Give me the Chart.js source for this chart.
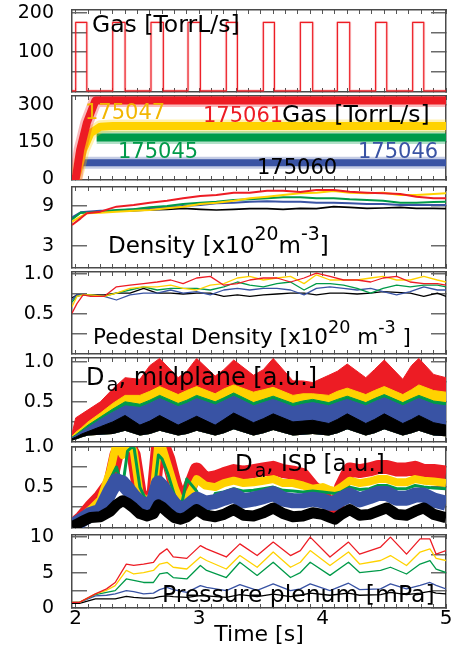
<!DOCTYPE html>
<html>
<head>
<meta charset="utf-8">
<script src="https://cdn.jsdelivr.net/npm/chart.js@4.4.1/dist/chart.umd.min.js"></script>
<style>
  html, body { margin: 0; padding: 0; background: #fff; }
  #wrap { position: relative; width: 461px; height: 649px; overflow: hidden; font-family: 'DejaVu Sans', sans-serif; }
  #wrap canvas { position: absolute; left: 0; z-index: 1; }
  .lbl { position: absolute; white-space: nowrap; line-height: 1; color: #000; z-index: 5; }
  .lbl sup { font-size: 0.82em; vertical-align: baseline; position: relative; top: -0.68em; }
  .lbl sub { font-size: 0.82em; vertical-align: baseline; position: relative; top: 0.3em; margin-left: 2px; }
</style>
</head>
<body>
<div id="wrap">
  <div class="lbl" style="left:92px;top:13px;font-size:23.5px">Gas [TorrL/s]</div>
  <div class="lbl" style="left:85px;top:102px;font-size:21px;color:#f2b600">175047</div>
  <div class="lbl" style="left:203px;top:105px;font-size:21px;color:#ed1c24">175061</div>
  <div class="lbl" style="left:282px;top:103px;font-size:23.5px">Gas [TorrL/s]</div>
  <div class="lbl" style="left:118px;top:141px;font-size:21px;color:#009a49">175045</div>
  <div class="lbl" style="left:358px;top:141px;font-size:21px;color:#3953a4">175046</div>
  <div class="lbl" style="left:257px;top:157px;font-size:21px">175060</div>
  <div class="lbl" style="left:108px;top:234px;font-size:23px">Density [x10<sup>20</sup>m<sup>-3</sup>]</div>
  <div class="lbl" style="left:93px;top:326px;font-size:21.5px">Pedestal Density [x10<sup style="top:-0.6em">20</sup> m<sup style="top:-0.6em">-3</sup> ]</div>
  <div class="lbl" style="left:86px;top:365px;font-size:24px">D<sub>a</sub>, midplane [a.u.]</div>
  <div class="lbl" style="left:235px;top:452px;font-size:23px">D<sub>a</sub>, ISP [a.u.]</div>
  <div class="lbl" style="left:162px;top:583px;font-size:23.5px">Pressure plenum [mPa]</div>
</div>
<script>
// shared time axis
const X_MIN = 1.97, X_MAX = 5.0;
const xLabelVals = [2, 3, 4, 5];

// panel 1: gas valve pulses (times in s), level in TorrL/s
const gasOn  = [2.00, 2.30, 2.61, 2.91, 3.22, 3.52, 3.82, 4.12, 4.43, 4.73];
const gasOff = [2.09, 2.40, 2.71, 3.01, 3.31, 3.61, 3.92, 4.22, 4.52, 4.82];
const gasHigh = 176, gasLow = 0;

// panel 2: gas flow per shot
const flowT_61 = [1.97, 2.00, 2.036, 2.09, 2.16, 5.00];
const flow_61  = [0, 0, 118, 227, 318, 318];
const flowT_47 = [1.97, 2.00, 2.02, 2.06, 2.12, 2.20, 2.30, 5.00];
const flow_47  = [0, 0, 36, 118, 186, 212, 215, 215];
const flowT_45 = [2.17, 5.00];
const flow_45  = [168, 168];
const flowT_46 = [2.01, 5.00];
const flow_46  = [66, 66];

// panel 3: line density
const tDen   = [1.97,2.04,2.09,2.20,2.33,2.47,2.60,2.74,2.87,3.01,3.14,3.28,3.41,3.55,3.68,3.82,3.95,4.09,4.22,4.36,4.49,4.63,4.76,4.90,5.00];
const denRed = [6.15,7.15,7.9,8.15,8.9,9.15,9.5,9.8,10.15,10.5,10.65,11.0,11.0,11.3,11.3,11.1,11.4,11.4,11.15,11.0,10.9,10.8,10.4,10.15,10.15];
const denYel = [6.65,7.4,7.9,8.0,8.15,8.3,8.4,8.65,8.9,9.3,9.5,9.8,10.15,10.4,10.65,10.9,11.0,11.25,11.0,10.9,11.0,10.65,10.65,10.8,10.9];
const denGrn = [7.0,8.0,8.0,8.15,8.4,8.5,8.8,9.0,9.3,9.5,9.65,9.9,10.0,10.15,10.3,10.3,10.15,10.15,10.0,9.9,9.8,9.5,9.5,9.6,9.65];
const denBlu = [7.3,8.05,8.15,8.3,8.3,8.5,8.65,8.8,9.0,9.15,9.4,9.5,9.65,9.7,9.65,9.65,9.5,9.5,9.4,9.3,9.3,9.15,9.15,9.15,9.15];
const denBlk = [7.15,8.0,8.05,8.15,8.3,8.3,8.4,8.5,8.65,8.5,8.4,8.5,8.6,8.6,8.5,8.65,8.6,8.9,8.8,8.65,8.7,8.8,8.65,8.65,8.6];

// panel 4: pedestal density
const tPed   = [1.97,2.01,2.06,2.12,2.23,2.33,2.44,2.55,2.66,2.77,2.87,2.98,3.09,3.20,3.31,3.41,3.52,3.63,3.74,3.85,3.95,4.06,4.17,4.28,4.39,4.49,4.60,4.71,4.82,4.93,5.00];
const pedRed = [0.51,0.63,0.74,0.72,0.72,0.84,0.86,0.88,0.90,0.925,0.88,0.95,0.97,0.86,0.88,0.925,0.95,0.95,0.90,0.95,1.01,0.97,0.925,0.925,0.90,0.95,0.97,0.90,0.88,0.88,0.86];
const pedYel = [0.59,0.72,0.74,0.74,0.72,0.76,0.82,0.84,0.84,0.86,0.82,0.80,0.86,0.88,0.95,0.97,0.925,0.95,0.97,0.88,0.99,0.925,0.925,0.925,0.95,0.97,0.925,0.925,0.97,0.925,0.90];
const pedGrn = [0.65,0.72,0.74,0.74,0.72,0.76,0.80,0.84,0.80,0.82,0.82,0.82,0.80,0.84,0.90,0.86,0.84,0.88,0.90,0.80,0.88,0.88,0.86,0.82,0.76,0.82,0.86,0.84,0.86,0.86,0.84];
const pedBlu = [0.675,0.74,0.74,0.74,0.72,0.675,0.74,0.76,0.76,0.80,0.76,0.78,0.74,0.80,0.82,0.80,0.82,0.82,0.80,0.74,0.82,0.84,0.82,0.80,0.82,0.78,0.74,0.78,0.84,0.80,0.80];
const pedBlk = [0.70,0.74,0.74,0.74,0.74,0.76,0.76,0.82,0.76,0.76,0.75,0.76,0.76,0.72,0.74,0.72,0.74,0.75,0.76,0.76,0.74,0.76,0.76,0.75,0.76,0.78,0.77,0.76,0.72,0.76,0.72];

// panel 5: D-alpha midplane, band envelopes
const tMid   = [1.97,2.00,2.05,2.10,2.20,2.30,2.40,2.52,2.60,2.68,2.83,2.90,2.98,3.13,3.20,3.28,3.44,3.52,3.60,3.76,3.84,3.92,4.05,4.12,4.20,4.35,4.42,4.50,4.65,4.72,4.78,4.90,5.00];
const midLow = [0.02,0.03,0.06,0.08,0.09,0.10,0.14,0.08,0.10,0.14,0.08,0.10,0.14,0.08,0.11,0.16,0.08,0.11,0.15,0.08,0.09,0.10,0.08,0.11,0.16,0.08,0.11,0.16,0.08,0.11,0.14,0.08,0.07];
const midBlk = [0.04,0.06,0.10,0.13,0.19,0.25,0.33,0.21,0.26,0.33,0.21,0.26,0.32,0.21,0.28,0.36,0.24,0.29,0.35,0.25,0.26,0.27,0.23,0.28,0.35,0.23,0.28,0.35,0.23,0.28,0.33,0.24,0.21];
const midBlu = [0.05,0.08,0.13,0.18,0.28,0.37,0.45,0.43,0.48,0.54,0.44,0.48,0.54,0.46,0.51,0.57,0.45,0.49,0.53,0.44,0.47,0.49,0.45,0.49,0.53,0.45,0.50,0.55,0.45,0.50,0.54,0.47,0.45];
const midGrn = [0.06,0.09,0.15,0.21,0.31,0.41,0.50,0.47,0.52,0.58,0.48,0.52,0.58,0.50,0.55,0.61,0.49,0.53,0.57,0.48,0.51,0.53,0.49,0.53,0.57,0.49,0.54,0.59,0.49,0.54,0.58,0.51,0.49];
const midYel = [0.07,0.12,0.18,0.25,0.36,0.48,0.58,0.58,0.63,0.69,0.59,0.64,0.69,0.60,0.66,0.71,0.62,0.65,0.68,0.58,0.60,0.60,0.58,0.63,0.67,0.59,0.64,0.69,0.59,0.65,0.71,0.64,0.62];
const midRed = [0.10,0.30,0.35,0.40,0.50,0.66,0.80,0.78,0.95,1.04,0.80,0.88,1.04,0.82,0.90,1.02,0.83,0.90,1.04,0.76,0.76,0.74,0.83,0.88,0.97,0.80,0.90,1.02,0.78,0.95,1.04,0.84,0.80];

// panel 6: D-alpha ISP, band centres
const tIsp   = [1.97,2.00,2.05,2.12,2.20,2.28,2.33,2.38,2.42,2.47,2.52,2.58,2.63,2.67,2.70,2.75,2.80,2.85,2.90,2.98,3.05,3.13,3.20,3.28,3.36,3.44,3.52,3.60,3.68,3.76,3.84,3.92,4.00,4.05,4.10,4.15,4.22,4.30,4.38,4.45,4.52,4.60,4.68,4.75,4.82,4.90,5.00];
const ispRed = [0.02,0.05,0.12,0.25,0.38,0.55,0.90,1.05,1.05,0.90,0.40,0.35,0.40,1.05,1.05,0.85,0.55,0.32,0.40,0.72,0.60,0.62,0.66,0.70,0.68,0.70,0.72,0.74,0.70,0.68,0.65,0.50,0.40,0.30,0.15,0.50,0.72,0.70,0.72,0.75,0.75,0.72,0.72,0.74,0.70,0.70,0.68];
const ispYel = [0.02,0.05,0.12,0.22,0.34,0.70,1.05,0.90,1.05,0.95,0.40,0.32,0.42,1.05,1.00,0.75,0.50,0.30,0.35,0.60,0.52,0.50,0.55,0.58,0.55,0.56,0.58,0.60,0.55,0.55,0.52,0.48,0.50,0.47,0.45,0.50,0.58,0.55,0.57,0.60,0.60,0.56,0.56,0.60,0.58,0.57,0.55];
const ispGrn = [0.02,0.04,0.10,0.18,0.28,0.60,0.75,0.50,0.95,1.02,0.50,0.30,0.38,0.90,0.85,0.65,0.40,0.22,0.60,0.45,0.12,0.42,0.44,0.48,0.45,0.46,0.48,0.50,0.46,0.45,0.44,0.45,0.44,0.43,0.42,0.44,0.50,0.47,0.48,0.52,0.52,0.48,0.48,0.52,0.50,0.49,0.48];
const ispBlu = [0.02,0.04,0.09,0.16,0.20,0.45,0.58,0.55,0.48,0.38,0.30,0.28,0.32,0.55,0.50,0.38,0.28,0.22,0.25,0.35,0.30,0.32,0.36,0.40,0.33,0.35,0.38,0.42,0.35,0.33,0.33,0.35,0.33,0.30,0.30,0.35,0.40,0.34,0.38,0.42,0.42,0.36,0.36,0.40,0.40,0.34,0.30];
const ispBlk = [0.01,0.03,0.07,0.12,0.13,0.20,0.28,0.33,0.30,0.24,0.17,0.14,0.17,0.28,0.25,0.18,0.12,0.10,0.13,0.22,0.15,0.13,0.16,0.22,0.15,0.14,0.18,0.24,0.17,0.13,0.14,0.18,0.16,0.13,0.10,0.16,0.22,0.15,0.16,0.20,0.24,0.16,0.15,0.20,0.24,0.16,0.12];

// panel 7: plenum pressure
const tPres   = [1.97,2.03,2.16,2.25,2.32,2.41,2.47,2.55,2.63,2.68,2.74,2.79,2.90,3.01,3.06,3.22,3.33,3.47,3.60,3.74,3.82,3.90,4.06,4.21,4.30,4.47,4.55,4.68,4.79,4.87,4.92,5.00];
const presRed = [0.8,0.8,2.0,2.7,3.6,6.2,6.0,6.2,6.45,7.6,8.35,7.2,7.0,8.8,8.35,7.2,9.05,7.4,9.3,7.4,8.1,10.0,7.2,9.3,7.6,8.6,10.0,7.6,9.75,9.75,7.6,8.1];
const presYel = [0.8,0.8,2.0,2.5,3.15,5.3,4.8,5.0,5.3,6.2,6.45,5.75,5.5,7.2,6.7,5.5,7.4,5.75,7.9,5.75,6.45,8.1,6.0,7.9,6.2,6.7,7.4,6.0,7.9,8.35,7.0,6.7];
const presGrn = [0.8,0.8,1.9,2.2,2.45,4.1,3.9,3.6,3.6,4.8,5.0,4.3,4.1,6.0,5.3,4.3,6.45,4.6,6.45,4.3,5.0,6.45,4.6,6.45,5.0,5.3,5.75,4.8,6.2,6.7,5.5,5.0];
const presBlu = [0.8,0.8,1.7,1.8,2.0,2.45,2.3,2.0,2.1,2.6,2.9,2.6,2.2,3.15,2.9,2.45,3.3,2.5,3.4,2.45,2.7,3.4,2.45,3.5,2.6,2.7,3.4,2.7,3.2,3.6,3.2,2.7];
const presBlk = [0.65,0.65,1.3,1.3,1.3,1.65,1.5,1.4,1.4,1.6,1.7,1.6,1.5,1.75,1.7,1.5,1.9,1.6,1.95,1.6,1.8,2.1,1.8,2.1,1.8,1.9,2.2,1.9,2.1,2.35,2.1,2.0];

const RED = '#ed1c24', YEL = '#ffd200', GRN = '#009a49', BLU = '#3953a4', BLK = '#000000';
const FONT = "'DejaVu Sans', sans-serif";
Chart.defaults.font.family = FONT;
Chart.defaults.color = '#000';

const W = 461, PAD = 14;
const xMinor = [];
for (let k = 20; k <= 50; k++) xMinor.push(k / 10);

function pts(ts, vs) {
  return ts.map((t, i) => ({ x: t, y: vs[i] }));
}

function fade(hex, a) {
  const n = parseInt(hex.slice(1), 16);
  return 'rgba(' + (n >> 16) + ',' + ((n >> 8) & 255) + ',' + (n & 255) + ',' + a + ')';
}

// thick noisy trace: solid core plus a faint fringe
function band(ts, vs, color, w) {
  return [
    { data: pts(ts, vs), borderColor: color, borderWidth: w },
    { data: pts(ts, vs), borderColor: fade(color, 0.3), borderWidth: w + 5 }
  ];
}

function noPad(s) {
  s.paddingTop = 0; s.paddingBottom = 0; s.paddingLeft = 0; s.paddingRight = 0;
}

function makePanel(p) {
  const last = !!p.last;
  const canvas = document.createElement('canvas');
  canvas.width = W;
  canvas.height = p.bottom - p.top + PAD + (last ? 41 : PAD);
  canvas.style.top = (p.top - PAD) + 'px';
  document.getElementById('wrap').appendChild(canvas);

  const setX = s => { s.ticks = xMinor.map(v => ({ value: v })); };
  const setY = s => { s.ticks = p.yTicks.map(v => ({ value: v })); };
  const xGrid = { drawOnChartArea: false, tickLength: -4, color: '#555', lineWidth: 1 };
  const yGrid = { drawOnChartArea: false, tickLength: p.tickLen, color: '#6a6a6a', lineWidth: 1.5 };
  const border = { display: true, color: '#4a4a4a', width: 1.5 };

  new Chart(canvas, {
    type: 'line',
    data: {
      datasets: p.datasets.map(d => Object.assign({
        xAxisID: 'x', yAxisID: 'y', pointRadius: 0, tension: 0, clip: 0, fill: false,
        borderJoinStyle: 'round'
      }, d))
    },
    options: {
      responsive: false,
      animation: false,
      devicePixelRatio: 1,
      layout: { padding: { top: PAD, bottom: last ? 1 : PAD, left: 0, right: 0 } },
      plugins: { legend: { display: false }, tooltip: { enabled: false } },
      scales: {
        x: {
          type: 'linear', position: 'bottom', min: X_MIN, max: X_MAX,
          afterBuildTicks: setX,
          afterFit: s => { s.height = last ? 40 : 0; noPad(s); },
          grid: xGrid, border: border,
          ticks: {
            display: last, autoSkip: false, maxRotation: 0, padding: 3,
            font: { size: 20 },
            callback: v => xLabelVals.includes(v) ? String(v) : ''
          },
          title: { display: last, text: 'Time [s]', font: { size: 22 }, padding: { top: 0, bottom: 0 } }
        },
        xTop: {
          type: 'linear', position: 'top', min: X_MIN, max: X_MAX,
          afterBuildTicks: setX,
          afterFit: s => { s.height = 0; noPad(s); },
          grid: xGrid, border: border,
          ticks: { display: false }
        },
        y: {
          type: 'linear', position: 'left', min: p.yMin, max: p.yMax,
          afterBuildTicks: setY,
          afterFit: s => { s.width = 72; noPad(s); },
          grid: yGrid, border: border,
          ticks: {
            autoSkip: false, padding: 18 - p.tickLen,
            font: { size: 19 },
            callback: v => p.yLabels.includes(v) ? p.fmt(v) : ''
          }
        },
        yRight: {
          type: 'linear', position: 'right', min: p.yMin, max: p.yMax,
          afterBuildTicks: setY,
          afterFit: s => { s.width = 15; noPad(s); },
          grid: yGrid, border: border,
          ticks: { display: false }
        }
      }
    }
  });
}

// square-wave points from the valve on/off times
const gasPts = [{ x: X_MIN, y: gasLow }];
gasOn.forEach((t, i) => {
  gasPts.push({ x: t, y: gasLow }, { x: t, y: gasHigh }, { x: gasOff[i], y: gasHigh }, { x: gasOff[i], y: gasLow });
});
gasPts.push({ x: X_MAX, y: gasLow });

const int = v => String(v);
const one = v => v.toFixed(1);

makePanel({
  top: 10, bottom: 92, yMin: -3, yMax: 208, tickLen: -15,
  yTicks: [50, 100, 150, 200], yLabels: [100, 200], fmt: int,
  datasets: [
    { data: gasPts, borderColor: RED, borderWidth: 1.2 },
    { data: gasPts, borderColor: fade(RED, 0.15), borderWidth: 3 }
  ]
});

makePanel({
  top: 96, bottom: 180, yMin: -4, yMax: 336, tickLen: 0,
  yTicks: [0, 150, 300], yLabels: [0, 150, 300], fmt: int,
  datasets: [].concat(
    band(flowT_61, flow_61, RED, 8),
    band(flowT_47, flow_47, YEL, 8),
    band(flowT_45, flow_45, GRN, 8),
    band(flowT_46, flow_46, BLU, 7)
  )
});

makePanel({
  top: 187, bottom: 268, yMin: -0.3, yMax: 11.85, tickLen: -15,
  yTicks: [3, 9], yLabels: [3, 9], fmt: int,
  datasets: [
    { data: pts(tDen, denRed), borderColor: RED, borderWidth: 2 },
    { data: pts(tDen, denYel), borderColor: YEL, borderWidth: 2 },
    { data: pts(tDen, denGrn), borderColor: GRN, borderWidth: 2 },
    { data: pts(tDen, denBlu), borderColor: BLU, borderWidth: 2 },
    { data: pts(tDen, denBlk), borderColor: BLK, borderWidth: 1.6 }
  ]
});

makePanel({
  top: 272, bottom: 354, yMin: 0, yMax: 1.025, tickLen: -15,
  yTicks: [0.25, 0.5, 0.75, 1.0], yLabels: [0.5, 1.0], fmt: one,
  datasets: [
    { data: pts(tPed, pedRed), borderColor: RED, borderWidth: 1.3 },
    { data: pts(tPed, pedYel), borderColor: YEL, borderWidth: 1.3 },
    { data: pts(tPed, pedGrn), borderColor: GRN, borderWidth: 1.3 },
    { data: pts(tPed, pedBlu), borderColor: BLU, borderWidth: 1.3 },
    { data: pts(tPed, pedBlk), borderColor: BLK, borderWidth: 1.3 }
  ]
});

makePanel({
  top: 358, bottom: 442, yMin: 0, yMax: 1.045, tickLen: -15,
  yTicks: [0.25, 0.5, 0.75, 1.0], yLabels: [0.5, 1.0], fmt: one,
  datasets: [
    { data: pts(tMid, midBlk), borderColor: BLK, backgroundColor: BLK, borderWidth: 1, fill: 5 },
    { data: pts(tMid, midBlu), borderColor: BLU, backgroundColor: BLU, borderWidth: 1, fill: 5 },
    { data: pts(tMid, midGrn), borderColor: GRN, backgroundColor: GRN, borderWidth: 1, fill: 5 },
    { data: pts(tMid, midYel), borderColor: YEL, backgroundColor: YEL, borderWidth: 1, fill: 5 },
    { data: pts(tMid, midRed), borderColor: RED, backgroundColor: RED, borderWidth: 1, fill: 5 },
    { data: pts(tMid, midLow), borderColor: 'rgba(0,0,0,0)', borderWidth: 0 }
  ]
});

makePanel({
  top: 447, bottom: 528, yMin: -0.01, yMax: 1.0, tickLen: -15,
  yTicks: [0.25, 0.5, 0.75, 1.0], yLabels: [0.5, 1.0], fmt: one,
  datasets: [
    { data: pts(tIsp, ispBlk), borderColor: BLK, borderWidth: 11 },
    { data: pts(tIsp, ispBlu), borderColor: BLU, borderWidth: 15 },
    { data: pts(tIsp, ispGrn), borderColor: GRN, borderWidth: 3 },
    { data: pts(tIsp, ispYel), borderColor: YEL, borderWidth: 8 },
    { data: pts(tIsp, ispRed), borderColor: RED, borderWidth: 14 }
  ]
});

makePanel({
  top: 535, bottom: 608, yMin: 0, yMax: 10.3, tickLen: -15, last: true,
  yTicks: [0, 2.5, 5, 7.5, 10], yLabels: [0, 5, 10], fmt: int,
  datasets: [
    { data: pts(tPres, presRed), borderColor: RED, borderWidth: 1.3 },
    { data: pts(tPres, presYel), borderColor: YEL, borderWidth: 1.3 },
    { data: pts(tPres, presGrn), borderColor: GRN, borderWidth: 1.3 },
    { data: pts(tPres, presBlu), borderColor: BLU, borderWidth: 1.3 },
    { data: pts(tPres, presBlk), borderColor: BLK, borderWidth: 1.3 }
  ]
});
</script>
</body>
</html>
